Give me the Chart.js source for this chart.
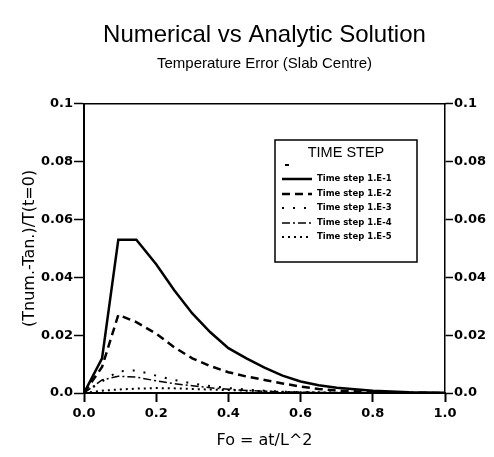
<!DOCTYPE html>
<html>
<head>
<meta charset="utf-8">
<script src="https://cdn.jsdelivr.net/npm/chart.js@4/dist/chart.umd.min.js"></script>
<style>
html,body{margin:0;padding:0;background:#fff;}
#wrap{width:494px;height:457px;}
</style>
</head>
<body>
<div id="wrap"><canvas id="c" width="494" height="457"></canvas></div>
<script>
// ---- data ----
const fo = [0, 0.05, 0.095, 0.145, 0.2, 0.25, 0.3, 0.35, 0.4, 0.45, 0.5, 0.55, 0.6, 0.65, 0.7, 0.8, 0.9, 1.0];
const step1 = [0, 0.012, 0.053, 0.053, 0.0445, 0.0355, 0.0275, 0.021, 0.0155, 0.012, 0.0088, 0.006, 0.004, 0.0027, 0.0018, 0.0008, 0.0003, 0.0001];
const step2 = [0, 0.009, 0.027, 0.0245, 0.0205, 0.0158, 0.012, 0.0093, 0.0072, 0.0057, 0.0045, 0.0033, 0.0022, 0.0014, 0.0008, 0.0003, 0.0001, 0];
const step3 = [0, 0.004, 0.0075, 0.0078, 0.006, 0.0045, 0.0033, 0.0024, 0.0017, 0.0012, 0.0008, 0.0005, 0.0003, 0.0002, 0.0001, 0.00005, 0, 0];
const step4 = [0, 0.0045, 0.0058, 0.0055, 0.0042, 0.0032, 0.0025, 0.0018, 0.0013, 0.0009, 0.0006, 0.0004, 0.0003, 0.0002, 0.0001, 0, 0, 0];
const step5 = [0, 0.0008, 0.0012, 0.0015, 0.0017, 0.0016, 0.0014, 0.0012, 0.001, 0.0008, 0.0006, 0.0004, 0.0003, 0.0002, 0.0001, 0, 0, 0];
const seriesNames = ['Time step 1.E-1', 'Time step 1.E-2', 'Time step 1.E-3', 'Time step 1.E-4', 'Time step 1.E-5'];
const legendTitle = 'TIME STEP';
const xTicks = [0, 0.2, 0.4, 0.6, 0.8, 1.0];
const yTicks = [0, 0.02, 0.04, 0.06, 0.08, 0.1];

const FONT = "'Liberation Sans', Arial, sans-serif";
const WFONT = "'DejaVu Sans', sans-serif";
const pts = (ys) => fo.map((x, i) => ({x: x, y: ys[i]}));
const styles = [
  {w: 2.5, dash: []},
  {w: 2.5, dash: [8, 5]},
  {w: 2, dash: [2, 9]},
  {w: 1.5, dash: [8, 3, 2, 3]},
  {w: 2, dash: [2, 4]}
];
const allSeries = [step1, step2, step3, step4, step5];
const datasets = allSeries.map((s, i) => ({
  label: seriesNames[i],
  data: pts(s),
  borderColor: '#000',
  backgroundColor: '#000',
  borderWidth: styles[i].w,
  borderDash: styles[i].dash,
  pointRadius: 0,
  tension: 0,
  fill: false
}));

const fmtY = v => v === 0 ? '0.0' : (Math.abs(v - 0.1) < 1e-9 ? '0.1' : v.toFixed(2));

const boxLegend = {
  id: 'boxLegend',
  afterDraw(chart) {
    const ctx = chart.ctx;
    const L = 275, T = 140, R = 417, B = 262;
    ctx.save();
    ctx.fillStyle = '#fff';
    ctx.fillRect(L, T, R - L, B - T);
    ctx.strokeStyle = '#000';
    ctx.lineWidth = 1.5;
    ctx.setLineDash([]);
    ctx.strokeRect(L, T, R - L, B - T);
    ctx.fillStyle = '#000';
    ctx.font = '14.5px ' + FONT;
    ctx.textAlign = 'center';
    ctx.textBaseline = 'middle';
    ctx.fillText(legendTitle, 346, 153);
    ctx.fillRect(285, 164, 4, 2);
    const ys = [179, 194, 208, 223, 237];
    ctx.font = 'bold 8.5px ' + WFONT;
    ctx.textAlign = 'left';
    chart.data.datasets.forEach((ds, i) => {
      ctx.beginPath();
      ctx.lineWidth = ds.borderWidth;
      ctx.setLineDash(ds.borderDash);
      ctx.moveTo(282, ys[i]);
      ctx.lineTo(312, ys[i]);
      ctx.stroke();
      ctx.setLineDash([]);
      ctx.fillText(ds.label, 317, ys[i]);
    });
    ctx.restore();
  }
};

new Chart(document.getElementById('c'), {
  type: 'line',
  data: {datasets: datasets},
  options: {
    responsive: false,
    animation: false,
    layout: {padding: 0},
    plugins: {
      legend: {display: false},
      tooltip: {enabled: false},
      title: {
        display: true,
        text: 'Numerical vs Analytic Solution',
        color: '#000',
        fullSize: false,
        font: {family: FONT, size: 24, weight: 'normal'},
        padding: {top: 21, bottom: 5}
      },
      subtitle: {
        display: true,
        text: 'Temperature Error (Slab Centre)',
        color: '#000',
        fullSize: false,
        font: {family: FONT, size: 15, weight: 'normal'},
        padding: {top: 0, bottom: 0}
      }
    },
    scales: {
      x: {
        type: 'linear',
        position: 'bottom',
        min: 0, max: 1,
        afterBuildTicks: s => { s.ticks = xTicks.map(v => ({value: v})); },
        afterFit: s => { s.height = 64; },
        ticks: {
          color: '#000',
          font: {family: WFONT, size: 13, weight: 'bold'},
          padding: 4,
          callback: v => v.toFixed(1),
          maxRotation: 0
        },
        grid: {drawOnChartArea: false, drawTicks: true, tickLength: 9, tickColor: '#000', tickWidth: 2},
        border: {display: true, color: '#000', width: 2},
        title: {
          display: true,
          text: 'Fo = at/L^2',
          color: '#000',
          font: {family: WFONT, size: 16, weight: 'normal'},
          padding: {top: 7, bottom: 7}
        }
      },
      x2: {
        type: 'linear',
        position: 'top',
        min: 0, max: 1,
        afterFit: s => { s.height = 31; },
        ticks: {display: false},
        grid: {drawOnChartArea: false, drawTicks: false},
        border: {display: true, color: '#000', width: 1.5}
      },
      y: {
        type: 'linear',
        position: 'left',
        min: 0, max: 0.1,
        afterBuildTicks: s => { s.ticks = yTicks.map(v => ({value: v})); },
        afterFit: s => { s.width = 84; },
        ticks: {
          color: '#000',
          font: {family: WFONT, size: 13, weight: 'bold'},
          padding: 1,
          callback: fmtY
        },
        grid: {drawOnChartArea: false, drawTicks: true, tickLength: 10, tickColor: '#000', tickWidth: 1.5},
        border: {display: true, color: '#000', width: 2},
        title: {
          display: true,
          text: '(Tnum.-Tan.)/T(t=0)',
          color: '#000',
          font: {family: WFONT, size: 16, weight: 'normal'},
          padding: {top: 20, bottom: 0}
        }
      },
      y2: {
        type: 'linear',
        position: 'right',
        min: 0, max: 0.1,
        afterBuildTicks: s => { s.ticks = yTicks.map(v => ({value: v})); },
        afterFit: s => { s.width = 49; },
        ticks: {
          color: '#000',
          font: {family: WFONT, size: 13, weight: 'bold'},
          padding: 1,
          callback: fmtY
        },
        grid: {drawOnChartArea: false, drawTicks: true, tickLength: 8, tickColor: '#000', tickWidth: 1.5},
        border: {display: true, color: '#000', width: 1.5}
      }
    }
  },
  plugins: [boxLegend]
});
</script>
</body>
</html>
